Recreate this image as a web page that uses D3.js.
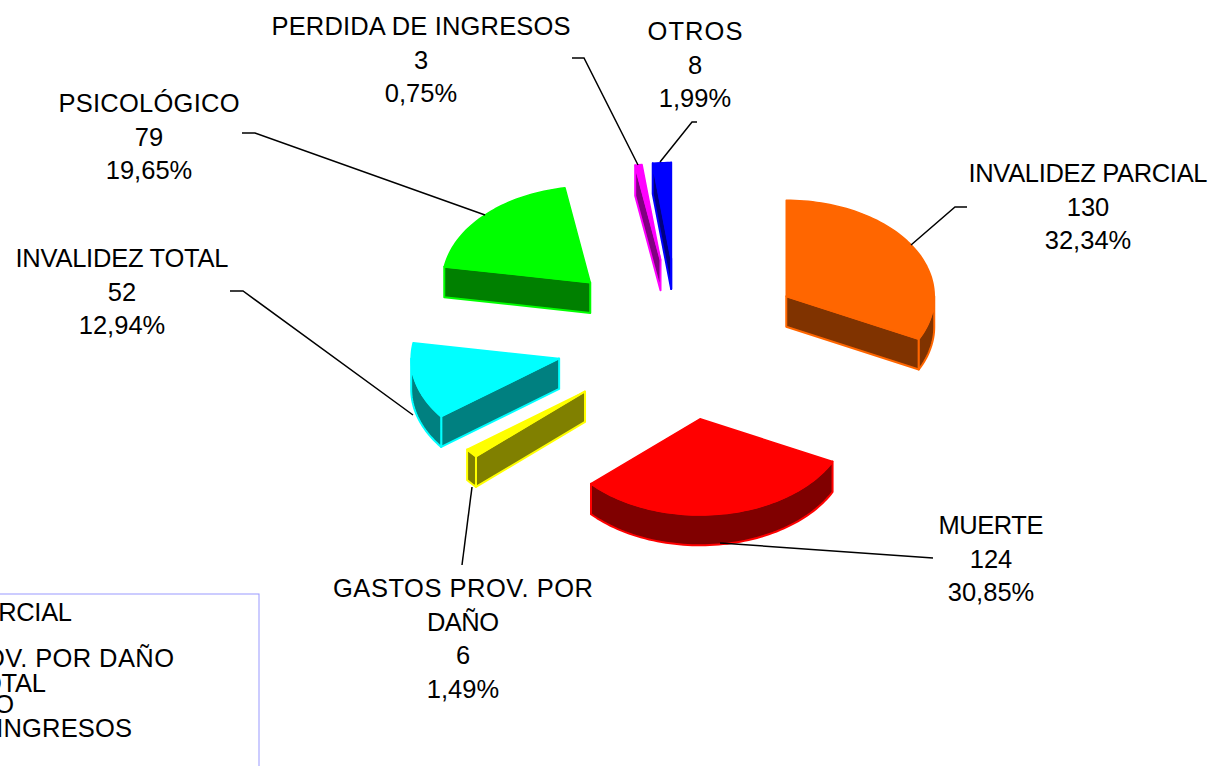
<!DOCTYPE html>
<html>
<head>
<meta charset="utf-8">
<script src="https://cdn.jsdelivr.net/npm/d3@7"></script>
<style>
    html, body { margin: 0; padding: 0; background: #fff; overflow: hidden; }
    svg { display: block; }
    text { font-family: "Liberation Sans", Arial, sans-serif; font-size: 25.5px; fill: #000; }
</style>
</head>
<body>
<svg width="1212" height="766"></svg>
<script>
// chart values
const categories = ['INVALIDEZ PARCIAL', 'MUERTE', 'GASTOS PROV. POR DAÑO', 'INVALIDEZ TOTAL', 'PSICOLÓGICO', 'PERDIDA DE INGRESOS', 'OTROS'];
const values = [130, 124, 6, 52, 79, 3, 8];
const labelLines = [['INVALIDEZ PARCIAL'], ['MUERTE'], ['GASTOS PROV. POR', 'DAÑO'], ['INVALIDEZ TOTAL'], ['PSICOLÓGICO'], ['PERDIDA DE INGRESOS'], ['OTROS']];

// styles and layout
const topColors = ['#FF6600', '#FF0000', '#FFFF00', '#00FFFF', '#00FF00', '#FF00FF', '#0000FF'];
const wallColors = ['#803300', '#800000', '#808000', '#008080', '#008000', '#800080', '#000080'];
const labelPos = [[1088, 182], [991, 534], [463, 597], [122, 267], [149, 112], [421, 35], [695, 40]];
const nameWidths = [[239], [105], [260, 72], [213], [181], [299], [95]];
const legendWidths = [239, 105, 341, 213, 181, 299, 95];
const leaderPts = [
    [[967, 207], [955, 207], [911, 245]],
    [[933, 558], [720, 543]],
    [[462, 565], [472, 487]],
    [[230, 291], [243, 291], [413, 415]],
    [[242, 133], [255, 133], [485, 215]],
    [[572, 58], [584, 58], [638, 165]],
    [[697, 122], [692, 122], [660, 162]]
];
const legendBaselines = [621, 644, 667, 692, 713, 737, 760];
// the exploded slices don't sit exactly on the same ring in the original
const sliceNudge = [[0, 0], [2.5, -0.5], [1, 0.5], [0.5, 0], [-1, 0.5], [-1, 1], [-1, 0.5]];

const cx = 680, cy = 339;
const rx = 148, ry = 96, depth = 30.5, explode = 125;

const total = d3.sum(values);
const pctFormat = d3.format('.2f');
const pct = (v) => pctFormat(v / total * 100).replace('.', ',') + '%';

// same clockwise-from-top layout as the original, keeping data order
const slices = d3.pie().sort(null)(values).map((s, i) => Object.assign(s, { i }));

// circle coordinates to the tilted screen plane
const xScale = d3.scaleLinear().domain([-1, 1]).range([-rx, rx]);
const yScale = d3.scaleLinear().domain([-1, 1]).range([ry, -ry]);
const px = (a, r) => xScale(r * Math.sin(a));
const py = (a, r) => yScale(r * Math.cos(a));

const line = d3.line();

function arcPts(a0, a1, ox, oy, dz) {
    const n = Math.max(2, Math.ceil((a1 - a0) / 0.03));
    return d3.range(n + 1).map((k) => {
        const a = a0 + (a1 - a0) * k / n;
        return [ox + px(a, 1), oy + py(a, 1) + dz];
    });
}

function drawSlice (g, s) {
    const mid = (s.startAngle + s.endAngle) / 2;
    const ox = cx + px(mid, explode / rx) + sliceNudge[s.i][0];
    const oy = cy + py(mid, explode / rx) + sliceNudge[s.i][1];
    const wall = wallColors[s.i], top = topColors[s.i];
    const face = (pts) => g.append('path')
        .attr('d', line(pts) + 'Z')
        .attr('fill', wall)
        .attr('stroke', top)
        .attr('stroke-width', 2)
        .attr('stroke-linejoin', 'round');

    const radial = (a) => {
        const e = [ox + px(a, 1), oy + py(a, 1)];
        return [[ox, oy], e, [e[0], e[1] + depth], [ox, oy + depth]];
    };
    if (Math.sin(s.startAngle) < 0) face(radial(s.startAngle));
    if (Math.sin(s.endAngle) > 0) face(radial(s.endAngle));

    // outer rim, only the front half shows
    const a0 = Math.max(s.startAngle, Math.PI / 2);
    const a1 = Math.min(s.endAngle, Math.PI * 3 / 2);
    if (a1 > a0) {
        face(arcPts(a0, a1, ox, oy, 0).concat(arcPts(a0, a1, ox, oy, depth).reverse()));
    }

    g.append('path')
        .attr('d', line([[ox, oy]].concat(arcPts(s.startAngle, s.endAngle, ox, oy, 0))) + 'Z')
        .attr('fill', top)
        .attr('stroke', top)
        .attr('stroke-width', 1.5)
        .attr('stroke-linejoin', 'round');
}

function drawLegend (svg) {
    svg.append('rect')
        .attr('x', -170).attr('y', 594)
        .attr('width', 429).attr('height', 240)
        .attr('fill', 'none')
        .attr('stroke', '#9999FF')
        .attr('stroke-width', 1);
    svg.append('g').selectAll('text')
        .data(categories)
        .enter()
        .append('text')
        .attr('x', -167)
        .attr('y', (d, i) => legendBaselines[i])
        .attr('textLength', (d, i) => legendWidths[i])
        .text((d) => d);
}

function drawLabels (svg) {
    slices.forEach((s) => {
        const names = labelLines[s.i];
        const lines = names.concat([String(s.value), pct(s.value)]);
        svg.append('path')
            .attr('d', line(leaderPts[s.i]))
            .attr('fill', 'none')
            .attr('stroke', '#000')
            .attr('stroke-width', 1.5);
        lines.forEach((txt, k) => {
            const t = svg.append('text')
                .attr('text-anchor', 'middle')
                .attr('x', labelPos[s.i][0])
                .attr('y', labelPos[s.i][1] + k * 33.5)
                .text(txt);
            if (k < names.length) t.attr('textLength', nameWidths[s.i][k]);
        });
    });
}

const svg = d3.select('svg');
drawLegend(svg);
const pieG = svg.append('g');
slices.forEach((s) => drawSlice(pieG, s));
drawLabels(svg);
</script>
</body>
</html>
